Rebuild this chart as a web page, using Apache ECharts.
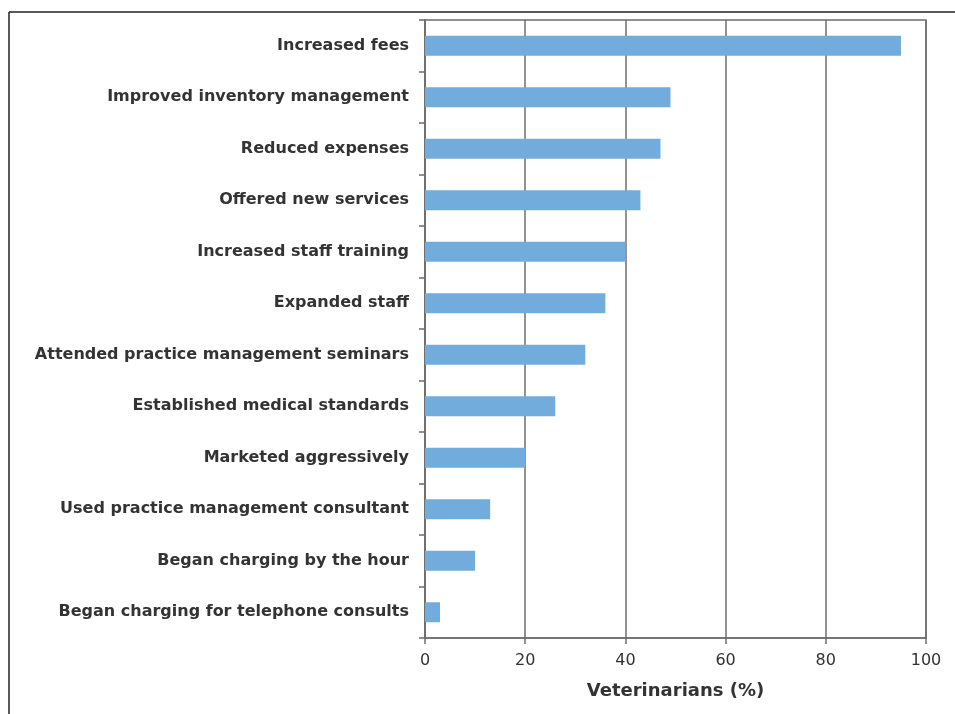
<!DOCTYPE html>
<html>
<head>
<meta charset="utf-8">
<script src="https://cdn.jsdelivr.net/npm/echarts@6/dist/echarts.min.js"></script>
<style>
  html, body { margin: 0; padding: 0; background: #fff; }
  #chart { width: 955px; height: 714px; }
</style>
</head>
<body>
<div id="chart"></div>
<script>
// strategies, top to bottom
const categories = [
    'Increased fees',
    'Improved inventory management',
    'Reduced expenses',
    'Offered new services',
    'Increased staff training',
    'Expanded staff',
    'Attended practice management seminars',
    'Established medical standards',
    'Marketed aggressively',
    'Used practice management consultant',
    'Began charging by the hour',
    'Began charging for telephone consults'
];
const percentages = [95, 49, 47, 43, 40, 36, 32, 26, 20, 13, 10, 3];
const xTicks = [0, 20, 40, 60, 80, 100];

const chart = echarts.init(document.getElementById('chart'));
const font = '"DejaVu Sans", sans-serif';
const lineColor = '#6e6e6e';

chart.setOption({
    animation: false,
    graphic: [
        { type: 'line', shape: { x1: 9, y1: 12, x2: 955, y2: 12 }, style: { stroke: '#222', lineWidth: 1.5 } },
        { type: 'line', shape: { x1: 9, y1: 12, x2: 9, y2: 714 }, style: { stroke: '#222', lineWidth: 1.5 } }
    ],
    grid: {
        left: 425, right: 29, top: 20, bottom: 76,
        show: true, borderColor: lineColor, borderWidth: 1.5
    },
    xAxis: {
        type: 'value',
        min: xTicks[0],
        max: xTicks[xTicks.length - 1],
        interval: 20,
        name: 'Veterinarians (%)',
        nameLocation: 'middle',
        nameGap: 44,
        nameTextStyle: { fontFamily: font, fontSize: 18, fontWeight: 'bold', color: '#333' },
        axisLine: { show: true, lineStyle: { color: lineColor, width: 1.5 } },
        axisTick: { show: true, length: 6, lineStyle: { color: lineColor, width: 1.5 } },
        axisLabel: { fontFamily: font, fontSize: 16, color: '#333', margin: 15 },
        splitLine: { show: true, lineStyle: { color: lineColor, width: 1.5 } }
    },
    yAxis: {
        type: 'category',
        data: categories,
        inverse: true,
        axisLine: { show: true, lineStyle: { color: lineColor, width: 1.5 } },
        axisTick: { show: true, length: 6, lineStyle: { color: lineColor, width: 1.5 } },
        axisLabel: { fontFamily: font, fontSize: 16, fontWeight: 'bold', color: '#333', margin: 16 },
        splitLine: { show: false }
    },
    series: [{
        type: 'bar',
        data: percentages,
        barWidth: 20,
        itemStyle: { color: '#71acdc' }
    }]
});
</script>
</body>
</html>
